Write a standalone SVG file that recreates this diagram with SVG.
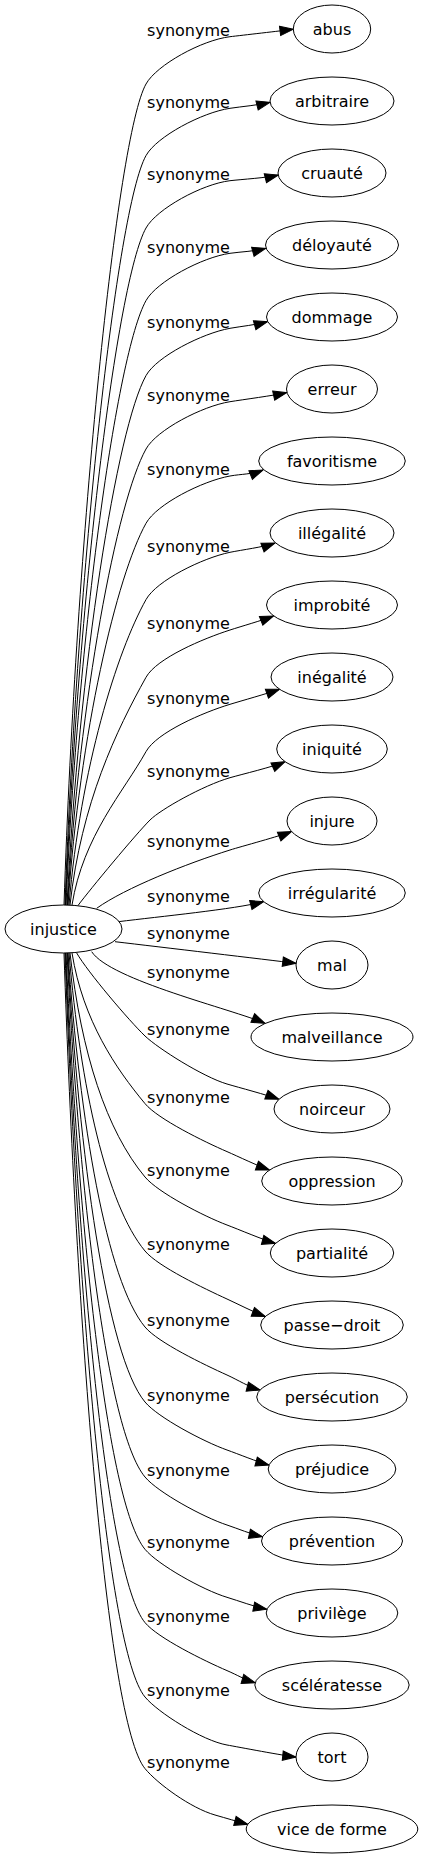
<svg xmlns="http://www.w3.org/2000/svg" width="423" height="1859" viewBox="0 0 423 1859">
<style>
.bg{fill:#ffffff}
.node ellipse{fill:#ffffff;stroke:#000000;stroke-width:1}
.node text,.edge text{font-family:"DejaVu Sans","Liberation Sans",sans-serif;font-size:16px;fill:#000000;text-anchor:middle}
.edge path{fill:none;stroke:#000000;stroke-width:1;marker-end:url(#ah)}
</style>
<defs>
<marker id="ah" markerUnits="userSpaceOnUse" markerWidth="16" markerHeight="12" refX="13.33" refY="4.67" orient="auto" overflow="visible">
<path d="M0,0 L13.33,4.67 L0,9.33 Z" fill="#000000" stroke="#000000" stroke-width="1"/>
</marker>
</defs>
<rect class="bg" x="0" y="0" width="423" height="1859"/>
<g id="connectors">
<g class="edge" id="e-abus"><path d="M64,905 C76.3,535.5 116.8,136.4 146,84 C156.7,64.8 202.2,40 230,36.7 C241.9,35.3 281.4,30.8 293.3,29.3"/><text x="188.5" y="36">synonyme</text></g>
<g class="edge" id="e-arbitraire"><path d="M65,905 C77.2,567.8 116.8,208 146,155.6 C156.7,136.4 202.3,112.4 230,108.3 C241.9,106.5 258.4,105.2 270,102.3"/><text x="188.5" y="107.6">synonyme</text></g>
<g class="edge" id="e-cruaute"><path d="M65.5,905 C77.6,600.4 116.8,280.4 146,228 C156.7,208.8 202.2,184 230,180.7 C241.9,179.3 266.7,177.9 278.3,175"/><text x="188.5" y="180">synonyme</text></g>
<g class="edge" id="e-deloyaute"><path d="M66,905 C78,633 116.8,353 146,300.6 C156.7,281.4 202.3,257.2 230,253.3 C241.9,251.6 254.1,251.5 265.7,248.3"/><text x="188.5" y="252.6">synonyme</text></g>
<g class="edge" id="e-dommage"><path d="M67,905 C78.9,666.8 116.8,428 146,375.6 C156.7,356.4 202.4,333.3 230,328.3 C241.8,326.2 255.5,325 267.5,321.7"/><text x="188.5" y="327.6">synonyme</text></g>
<g class="edge" id="e-erreur"><path d="M67.5,905 C79.3,699.8 116.8,501.4 146,449 C156.7,429.8 202.3,406.1 230,401.7 C241.9,399.8 275,395.3 286.7,392.7"/><text x="188.5" y="401">synonyme</text></g>
<g class="edge" id="e-favoritisme"><path d="M68,905 C79.7,733.2 116.8,575.7 146,523.3 C156.7,504.1 202.4,481 230,476 C241.8,473.9 251.9,474.5 263,470"/><text x="188.5" y="475.3">synonyme</text></g>
<g class="edge" id="e-illegalite"><path d="M69,905 C80.6,767.6 116.8,652 146,599.6 C156.7,580.4 202.6,558 230,552.3 C241.7,549.9 263.7,547.1 275,543"/><text x="188.5" y="551.6">synonyme</text></g>
<g class="edge" id="e-improbite"><path d="M70,905 C81.4,802.5 116.8,729.7 146,677.3 C156.7,658.1 203.3,638.6 230,630 C241.4,626.3 262.3,620.4 273.5,616"/><text x="188.5" y="629.3">synonyme</text></g>
<g class="edge" id="e-inegalite"><path d="M72,905 C83.1,836 123.6,791.8 146,751.6 C156.7,732.4 203.2,712.4 230,704.3 C241.5,700.8 268.2,693.3 279.5,689.3"/><text x="188.5" y="703.6">synonyme</text></g>
<g class="edge" id="e-iniquite"><path d="M78,905.5 C90,889.5 135.9,834.1 150,820 C160.6,809.4 203.1,785.5 230,777.7 C241.5,774.4 274.1,766.6 285,761.7"/><text x="188.5" y="777">synonyme</text></g>
<g class="edge" id="e-injure"><path d="M96.7,908.3 C125,888 187,863.5 230,850 C241.4,846.4 280.4,836 291.5,831.5"/><text x="188.5" y="846.6">synonyme</text></g>
<g class="edge" id="e-irregularite"><path d="M118.3,921.7 C160,916.5 234.3,909.3 263.7,901.7"/><text x="188.5" y="902">synonyme</text></g>
<g class="edge" id="e-mal"><path d="M115,941.7 C160,947 266.2,959.6 296,963.3"/><text x="188.5" y="939.3">synonyme</text></g>
<g class="edge" id="e-malveillance"><path d="M91.7,951.7 C110,980 232.9,1009.4 265,1023.3"/><text x="188.5" y="977.6">synonyme</text></g>
<g class="edge" id="e-noirceur"><path d="M76.7,953 C87.7,972.1 129.2,1020.8 145,1036 C158,1048.4 203,1076.9 227,1084 C238.5,1087.4 267.6,1095.1 278.9,1099.3"/><text x="188.5" y="1035">synonyme</text></g>
<g class="edge" id="e-oppression"><path d="M72,953 C83,1020.8 116.1,1068.8 145,1103.6 C157.8,1119 204.1,1141.7 227,1151.6 C238,1156.4 258.2,1166.1 269.5,1170"/><text x="188.5" y="1102.6">synonyme</text></g>
<g class="edge" id="e-partialite"><path d="M70,953 C81.3,1053.8 106.6,1130.8 145,1177 C157.8,1192.4 203.6,1216.2 227,1225 C238.2,1229.2 263.9,1240.2 275.5,1243.3"/><text x="188.5" y="1176">synonyme</text></g>
<g class="edge" id="e-passe-droit"><path d="M69,953 C80.4,1087.1 106.6,1204.8 145,1251 C157.8,1266.4 204.3,1288.6 227,1299 C237.9,1304 254,1312.3 265.3,1316.5"/><text x="188.5" y="1250">synonyme</text></g>
<g class="edge" id="e-persecution"><path d="M68,953 C79.6,1121.3 106.6,1280.8 145,1327 C157.8,1342.4 204.2,1364.7 227,1375 C237.9,1379.9 248.6,1387 260.2,1390"/><text x="188.5" y="1326">synonyme</text></g>
<g class="edge" id="e-prejudice"><path d="M67.5,953 C79.1,1155.1 106.6,1355.8 145,1402 C157.8,1417.4 203.4,1441.6 227,1450 C238.3,1454 257.4,1461.9 269,1465"/><text x="188.5" y="1401">synonyme</text></g>
<g class="edge" id="e-prevention"><path d="M67,953 C78.7,1188.8 106.6,1430.8 145,1477 C157.8,1492.4 203.3,1517.2 227,1525 C238.4,1528.8 250.7,1534.1 262.4,1536.7"/><text x="188.5" y="1476">synonyme</text></g>
<g class="edge" id="e-privilege"><path d="M66,953 C77.9,1221.3 106.6,1503.1 145,1549.3 C157.8,1564.7 203.1,1590.1 227,1597.3 C238.5,1600.8 255,1606.9 266.8,1609.3"/><text x="188.5" y="1548.3">synonyme</text></g>
<g class="edge" id="e-sceleratesse"><path d="M65.5,953 C77.4,1254.3 106.6,1576.4 145,1622.6 C157.8,1638 204,1660.7 227,1670.6 C238,1675.3 243.7,1679.3 255.2,1682.7"/><text x="188.5" y="1621.6">synonyme</text></g>
<g class="edge" id="e-tort"><path d="M65,953 C77,1287.8 106.6,1650.8 145,1697 C157.8,1712.4 202.3,1740.7 227,1745 C238.8,1747.1 284.1,1755.8 296,1757"/><text x="188.5" y="1696">synonyme</text></g>
<g class="edge" id="e-vice-de-forme"><path d="M64,953 C76.2,1320 106.6,1722.4 145,1768.6 C157.8,1784 191,1808.2 215,1815 C226.5,1818.3 236.2,1821.2 247.8,1824.3"/><text x="188.5" y="1767.6">synonyme</text></g>
</g>
<g class="node" id="n-injustice"><ellipse cx="63.5" cy="929" rx="58.5" ry="24"/><text x="63.5" y="934.5">injustice</text></g>
<g class="node" id="n-abus"><ellipse cx="332" cy="29" rx="38.7" ry="24"/><text x="332" y="34.5">abus</text></g>
<g class="node" id="n-arbitraire"><ellipse cx="332" cy="101" rx="62" ry="24"/><text x="332" y="106.5">arbitraire</text></g>
<g class="node" id="n-cruaute"><ellipse cx="332" cy="173" rx="54" ry="24"/><text x="332" y="178.5">cruauté</text></g>
<g class="node" id="n-deloyaute"><ellipse cx="332" cy="245" rx="66.5" ry="24"/><text x="332" y="250.5">déloyauté</text></g>
<g class="node" id="n-dommage"><ellipse cx="332" cy="317" rx="65.5" ry="24"/><text x="332" y="322.5">dommage</text></g>
<g class="node" id="n-erreur"><ellipse cx="332" cy="389" rx="45.5" ry="24"/><text x="332" y="394.5">erreur</text></g>
<g class="node" id="n-favoritisme"><ellipse cx="332" cy="461" rx="73.3" ry="24"/><text x="332" y="466.5">favoritisme</text></g>
<g class="node" id="n-illegalite"><ellipse cx="332" cy="533" rx="62" ry="24"/><text x="332" y="538.5">illégalité</text></g>
<g class="node" id="n-improbite"><ellipse cx="332" cy="605" rx="65.5" ry="24"/><text x="332" y="610.5">improbité</text></g>
<g class="node" id="n-inegalite"><ellipse cx="332" cy="677" rx="61" ry="24"/><text x="332" y="682.5">inégalité</text></g>
<g class="node" id="n-iniquite"><ellipse cx="332" cy="749" rx="55.3" ry="24"/><text x="332" y="754.5">iniquité</text></g>
<g class="node" id="n-injure"><ellipse cx="332" cy="821" rx="45" ry="24"/><text x="332" y="826.5">injure</text></g>
<g class="node" id="n-irregularite"><ellipse cx="332" cy="893" rx="73.3" ry="24"/><text x="332" y="898.5">irrégularité</text></g>
<g class="node" id="n-mal"><ellipse cx="332" cy="965" rx="36" ry="24"/><text x="332" y="970.5">mal</text></g>
<g class="node" id="n-malveillance"><ellipse cx="332" cy="1037" rx="81" ry="24"/><text x="332" y="1042.5">malveillance</text></g>
<g class="node" id="n-noirceur"><ellipse cx="332" cy="1109" rx="58" ry="24"/><text x="332" y="1114.5">noirceur</text></g>
<g class="node" id="n-oppression"><ellipse cx="332" cy="1181" rx="70.3" ry="24"/><text x="332" y="1186.5">oppression</text></g>
<g class="node" id="n-partialite"><ellipse cx="332" cy="1253" rx="61.7" ry="24"/><text x="332" y="1258.5">partialité</text></g>
<g class="node" id="n-passe-droit"><ellipse cx="332" cy="1325" rx="71.3" ry="24"/><text x="332" y="1330.5">passe−droit</text></g>
<g class="node" id="n-persecution"><ellipse cx="332" cy="1397" rx="75.3" ry="24"/><text x="332" y="1402.5">persécution</text></g>
<g class="node" id="n-prejudice"><ellipse cx="332" cy="1469" rx="63.8" ry="24"/><text x="332" y="1474.5">préjudice</text></g>
<g class="node" id="n-prevention"><ellipse cx="332" cy="1541" rx="70.5" ry="24"/><text x="332" y="1546.5">prévention</text></g>
<g class="node" id="n-privilege"><ellipse cx="332" cy="1613" rx="65.8" ry="24"/><text x="332" y="1618.5">privilège</text></g>
<g class="node" id="n-sceleratesse"><ellipse cx="332" cy="1685" rx="77.2" ry="24"/><text x="332" y="1690.5">scélératesse</text></g>
<g class="node" id="n-tort"><ellipse cx="332" cy="1757" rx="36" ry="24"/><text x="332" y="1762.5">tort</text></g>
<g class="node" id="n-vice-de-forme"><ellipse cx="332" cy="1829" rx="85.8" ry="24"/><text x="332" y="1834.5">vice de forme</text></g>
</svg>
